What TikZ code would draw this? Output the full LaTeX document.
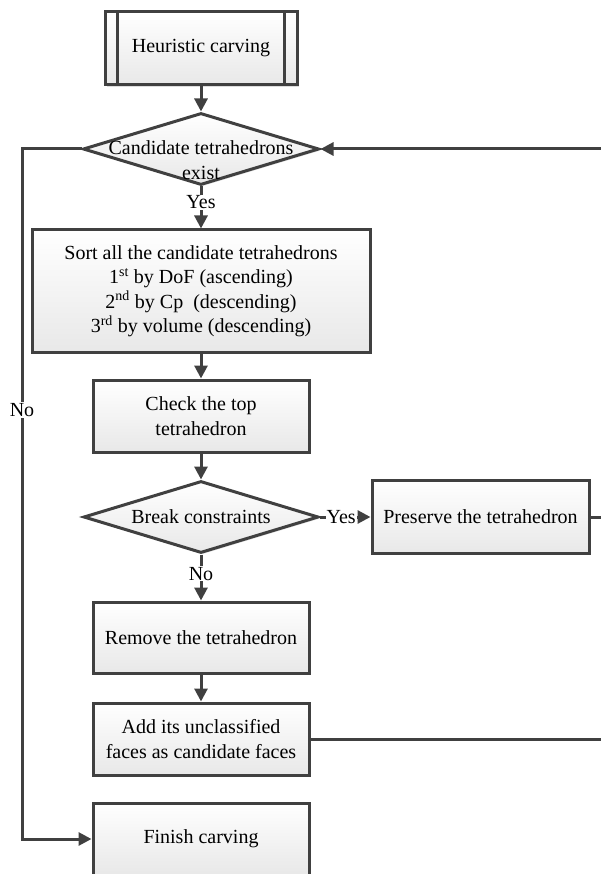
\documentclass[tikz,border=0pt]{standalone}
\usepackage{fontspec}
\setmainfont{Liberation Serif}
\usetikzlibrary{shapes.geometric,arrows.meta,shadows,calc}
\definecolor{ln}{HTML}{404040}
\definecolor{fl}{HTML}{E8E8E8}
\tikzset{
  every node/.style={font=\fontsize{20pt}{24.5pt}\selectfont, text=black},
  sh/.style={drop shadow={shadow xshift=1.6pt,shadow yshift=-1.6pt,fill=black!22,opacity=0.6}},
  box/.style={rectangle, draw=ln, line width=3pt, top color=white, bottom color=fl, sh,
    align=center, inner sep=0pt},
  dec/.style={diamond, draw=ln, line width=3pt, top color=white, bottom color=fl, sh,
    inner sep=0pt, minimum width=236pt, minimum height=72pt},
  con/.style={draw=ln, line width=3pt},
  arr/.style={con, -{Triangle[length=13pt,width=13pt]}},
  lbl/.style={fill=white, inner sep=1pt},
}
\begin{document}
\begin{tikzpicture}[x=1pt,y=-1pt]
\useasboundingbox (0,0) rectangle (601,874);
\clip (0,0) rectangle (601,874);
% nodes
\node[box, minimum width=192pt, minimum height=73pt] (h) at (201,48.5) {Heuristic carving};
\draw[con, line width=2.5pt] ($(h.north west)+(14,0)$) -- ($(h.south west)+(14,0)$);
\draw[con, line width=2.5pt] ($(h.north east)+(-14,0)$) -- ($(h.south east)+(-14,0)$);
\node[dec] (d1) at (201,149) {};
\node[align=center, inner sep=0pt] (d1t) at (201,160) {Candidate tetrahedrons\\exist};
\node[box, minimum width=338pt, minimum height=122pt] (sort) at (201,291)
  {Sort all the candidate tetrahedrons\\1\textsuperscript{st} by DoF (ascending)\\2\textsuperscript{nd} by Cp~ (descending)\\3\textsuperscript{rd} by volume (descending)};
\node[box, minimum width=216pt, minimum height=72pt] (check) at (201,416) {Check the top\\tetrahedron};
\node[dec, minimum width=235pt] (d2) at (201,517) {};
\node[inner sep=0pt] (d2t) at (201,517) {Break constraints};
\node[box, minimum width=217pt, minimum height=73pt] (pres) at (480.5,517) {Preserve the tetrahedron};
\node[box, minimum width=216pt, minimum height=71pt] (rem) at (201,637.5) {Remove the tetrahedron};
\node[box, minimum width=216pt, minimum height=72pt] (add) at (201,739) {Add its unclassified\\faces as candidate faces};
\node[box, minimum width=216pt, minimum height=72pt] (fin) at (201,839) {Finish carving};
% free ends
\coordinate (L) at (22,149);
\coordinate (R0) at (620,149);
\coordinate (R1) at (620,517);
\coordinate (R2) at (620,739);
% connectors
\draw[arr] (h.south) -- (d1.north);
\draw[arr] (d1.south) -- node[lbl, pos=0.38] (yes1) {Yes} (sort.north);
\draw[arr] (sort.south) -- (check.north);
\draw[arr] (check.south) -- (d2.north);
\draw[arr] (d2.east) -- node[lbl, pos=0.42] (yes2) {Yes} (pres.west);
\draw[arr] (d2.south) -- node[lbl, pos=0.42] (no2) {No} (rem.north);
\draw[arr] (rem.south) -- (add.north);
\draw[arr] (d1.west) -- (L) |- (fin.west);
\node[lbl] (no1) at (22,410) {No};
\draw[con] (pres.east) -- (R1);
\draw[con] (add.east) -- (R2);
\draw[arr] (R2) -- (R0) -- (d1.east);
\end{tikzpicture}
\end{document}
